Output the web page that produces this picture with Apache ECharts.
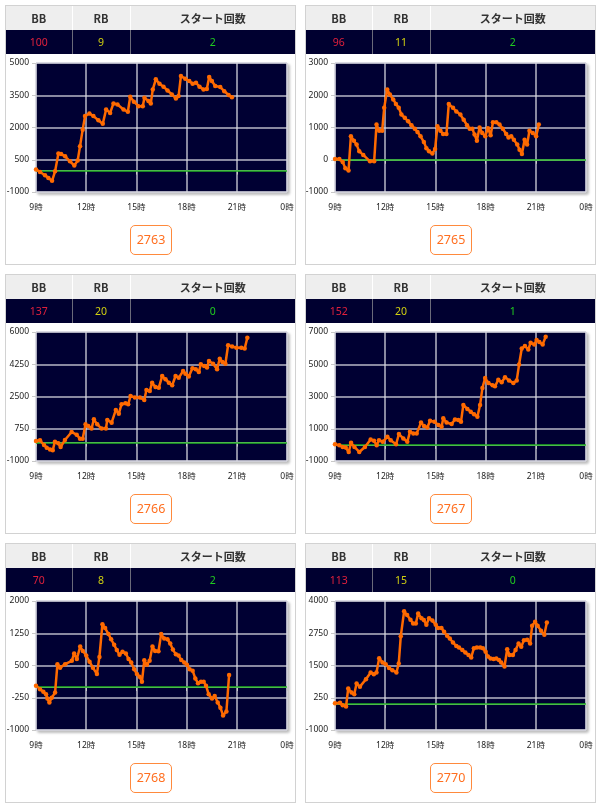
<!DOCTYPE html>
<html><head><meta charset="utf-8">
<script src="https://cdn.jsdelivr.net/npm/echarts@6/dist/echarts.min.js"></script>
<style>
html,body{margin:0;padding:0;background:#fff;width:600px;height:806px;overflow:hidden;font-family:"Noto Sans","Noto Sans CJK JP",sans-serif;}
#chart{position:absolute;left:0;top:0;width:600px;height:806px;}
.panel{position:absolute;width:289px;height:258px;border:1px solid #d2d2d2;pointer-events:none;}
.panel table{position:absolute;left:0;top:0;width:289px;border-collapse:collapse;table-layout:fixed;}
.panel th{background:#eeeeee;height:24px;padding:0;font-size:11px;font-weight:bold;color:#333;border-right:1px solid #fff;font-family:"Noto Sans CJK JP","Noto Sans",sans-serif;}
.panel td{background:#000030;height:24px;padding:0;font-size:10.5px;text-align:center;border-right:1px solid #6a6a7a;}
.panel th:last-child,.panel td:last-child{border-right:none;}
.c1{width:66px}.c2{width:58px}
.bb{color:#e0203c}.rb{color:#d0d010}.st{color:#20cc20}
.btn{position:absolute;left:124px;top:219px;width:40px;height:28px;border:1px solid #ff8a3d;border-radius:5px;color:#ff6f20;font-size:12.5px;line-height:28px;text-align:center;}
</style></head>
<body>
<div id="chart"></div>
<div id="panels"></div>
<script>
// ---- data ----
const machineIds = [2763, 2765, 2766, 2767, 2768, 2770];
const bbCounts = [100, 96, 137, 152, 70, 113];
const rbCounts = [9, 11, 20, 20, 8, 15];
const startCounts = [2, 2, 0, 1, 2, 0];
const headerLabels = ['BB', 'RB', 'スタート回数'];

const yMin = -1000;
const yMax = [5000, 3000, 6000, 7000, 2000, 4000];
const yStep = [1500, 1000, 1750, 2000, 750, 1250];
const xMin = 9, xMax = 24, xStep = 3;

const hours1 = [9.0, 9.24, 9.54, 9.74, 9.96, 10.14, 10.34, 10.5, 10.74, 11.03, 11.29, 11.49, 11.63, 11.79, 11.93, 12.19, 12.43, 12.73, 12.99, 13.19, 13.43, 13.63, 13.87, 14.23, 14.49, 14.63, 14.85, 15.12, 15.38, 15.48, 15.72, 15.86, 15.98, 16.16, 16.38, 16.62, 16.86, 17.12, 17.36, 17.52, 17.66, 17.92, 18.16, 18.36, 18.56, 18.77, 19.01, 19.21, 19.35, 19.51, 19.71, 20.01, 20.25, 20.51, 20.71];
const values1 = [50, -70, -220, -350, -480, -40, 790, 770, 660, 430, 230, 460, 1130, 1900, 2530, 2650, 2530, 2340, 2170, 2840, 2680, 3120, 3070, 2840, 2730, 3430, 3200, 2990, 2990, 3380, 3230, 3120, 3770, 4240, 4035, 3900, 3720, 3540, 3350, 3460, 4390, 4270, 4160, 4035, 4080, 3900, 3770, 3790, 4350, 4160, 3930, 3880, 3690, 3510, 3410];

const hours2 = [9.0, 9.26, 9.46, 9.62, 9.81, 9.95, 10.13, 10.29, 10.45, 10.69, 11.09, 11.34, 11.48, 11.64, 11.82, 11.94, 12.12, 12.28, 12.48, 12.64, 12.81, 12.97, 13.17, 13.37, 13.57, 13.77, 13.93, 14.11, 14.31, 14.46, 14.62, 14.82, 14.98, 15.12, 15.30, 15.46, 15.66, 15.80, 16.05, 16.25, 16.49, 16.69, 16.89, 17.05, 17.21, 17.34, 17.48, 17.64, 17.80, 17.98, 18.14, 18.30, 18.44, 18.64, 18.83, 19.03, 19.23, 19.37, 19.53, 19.69, 19.89, 20.03, 20.17, 20.33, 20.48, 20.62, 20.82, 21.02, 21.18];
const values2 = [20, 20, -70, -260, -330, 730, 590, 470, 260, 150, -50, -50, 1090, 900, 900, 1610, 2180, 2020, 1870, 1730, 1610, 1400, 1300, 1190, 1070, 960, 860, 730, 550, 360, 260, 190, 330, 1040, 900, 800, 800, 1730, 1610, 1500, 1400, 1240, 1070, 960, 960, 780, 590, 1000, 830, 730, 980, 760, 1160, 1160, 1090, 960, 800, 690, 730, 620, 470, 310, 180, 620, 470, 900, 830, 730, 1090];

const hours3 = [9.0, 9.24, 9.48, 9.64, 9.84, 10.0, 10.13, 10.33, 10.47, 10.73, 11.13, 11.43, 11.63, 11.79, 11.96, 12.12, 12.32, 12.46, 12.66, 12.92, 13.18, 13.26, 13.52, 13.77, 13.95, 14.11, 14.35, 14.51, 14.65, 14.91, 15.21, 15.47, 15.6, 15.8, 15.94, 16.14, 16.34, 16.54, 16.74, 16.94, 17.14, 17.34, 17.53, 17.79, 17.93, 18.13, 18.35, 18.55, 18.73, 18.85, 19.05, 19.22, 19.34, 19.58, 19.82, 19.98, 20.14, 20.32, 20.48, 20.72, 20.98, 21.27, 21.47, 21.63];
const values3 = [90, 120, -130, -280, -370, -420, 50, -40, -240, 140, 570, 430, 210, 210, 990, 900, 760, 1260, 990, 760, 760, 1230, 1080, 1770, 1570, 2080, 2130, 2080, 2530, 2440, 2440, 2310, 2850, 2800, 3250, 3020, 2980, 3610, 3430, 3250, 3110, 3610, 3520, 3880, 3740, 3580, 4030, 3980, 3830, 4250, 4160, 4070, 4430, 4280, 3980, 4550, 4370, 4280, 5280, 5210, 5150, 5150, 5100, 5690];

const hours4 = [9.0, 9.26, 9.46, 9.64, 9.82, 9.96, 10.16, 10.45, 10.79, 11.13, 11.33, 11.49, 11.63, 11.85, 12.13, 12.33, 12.65, 12.82, 13.08, 13.32, 13.48, 13.68, 13.88, 14.14, 14.32, 14.52, 14.68, 14.94, 15.18, 15.37, 15.47, 15.67, 15.97, 16.17, 16.37, 16.53, 16.67, 16.91, 17.11, 17.31, 17.51, 17.67, 17.81, 17.97, 18.17, 18.42, 18.56, 18.76, 18.96, 19.16, 19.40, 19.66, 19.86, 20.0, 20.16, 20.35, 20.55, 20.69, 20.91, 21.05, 21.21, 21.41, 21.59];
const values4 = [40, -20, -130, -170, -440, 130, -130, -440, -130, 330, 250, -20, 290, 190, 500, 290, 40, 670, 400, 190, 810, 710, 710, 1380, 1170, 1080, 1500, 1440, 1230, 1130, 1650, 1380, 1290, 1580, 1540, 1440, 2480, 2230, 2060, 1900, 1750, 2480, 3520, 4150, 3830, 3690, 3630, 4040, 3880, 4190, 4000, 3830, 4000, 4980, 5980, 6130, 5920, 6330, 6230, 6500, 6380, 6230, 6710];

const hours5 = [9.0, 9.24, 9.44, 9.60, 9.68, 9.80, 9.94, 10.14, 10.28, 10.44, 10.74, 11.14, 11.28, 11.44, 11.64, 11.80, 12.0, 12.2, 12.4, 12.64, 12.79, 12.97, 13.13, 13.33, 13.49, 13.67, 13.83, 13.99, 14.17, 14.37, 14.53, 14.69, 14.87, 15.03, 15.19, 15.33, 15.47, 15.63, 15.79, 15.96, 16.12, 16.32, 16.48, 16.66, 16.86, 17.02, 17.18, 17.36, 17.52, 17.68, 17.86, 18.02, 18.18, 18.36, 18.52, 18.68, 18.86, 19.02, 19.16, 19.32, 19.52, 19.68, 19.86, 20.02, 20.18, 20.38, 20.54];
const values5 = [30, -50, -110, -170, -270, -360, -250, -130, 530, 450, 530, 610, 780, 650, 940, 840, 730, 590, 450, 300, 700, 1460, 1370, 1230, 1110, 980, 860, 750, 820, 780, 650, 570, 410, 300, 240, 120, 620, 520, 610, 940, 840, 830, 1230, 1130, 1110, 1010, 870, 760, 730, 630, 570, 520, 410, 380, 200, 90, 120, 120, 30, -170, -270, -210, -360, -480, -660, -570, 280];

const hours6 = [9.0, 9.3, 9.46, 9.66, 9.79, 9.99, 10.15, 10.29, 10.49, 10.85, 11.13, 11.32, 11.48, 11.64, 11.84, 12.03, 12.23, 12.43, 12.67, 12.81, 12.93, 13.13, 13.31, 13.51, 13.67, 13.83, 13.97, 14.17, 14.31, 14.46, 14.62, 14.82, 15.02, 15.16, 15.36, 15.52, 15.7, 15.86, 16.05, 16.25, 16.41, 16.61, 16.79, 16.98, 17.14, 17.30, 17.48, 17.68, 17.84, 18.0, 18.14, 18.30, 18.48, 18.64, 18.80, 18.93, 19.13, 19.29, 19.43, 19.63, 19.79, 19.97, 20.13, 20.29, 20.48, 20.66, 20.78, 20.96, 21.11, 21.31, 21.51, 21.66];
const values6 = [40, 60, -40, -90, 610, 450, 390, 800, 680, 970, 1230, 1160, 1230, 1780, 1620, 1550, 1400, 1320, 1230, 1580, 2630, 3600, 3460, 3270, 3130, 3130, 3520, 3330, 3260, 3080, 3330, 3240, 3080, 2950, 2950, 2810, 2650, 2550, 2390, 2260, 2200, 2100, 2000, 1910, 1810, 2170, 2200, 2200, 2170, 2030, 1850, 1770, 1750, 1770, 1710, 1620, 1460, 2130, 1910, 1910, 2100, 2350, 2230, 2480, 2500, 2350, 3040, 3200, 3040, 2850, 2690, 3170];

const allHours = [hours1, hours2, hours3, hours4, hours5, hours6];
const allValues = [values1, values2, values3, values4, values5, values6];

// ---- layout ----
const panelLeft = [5, 305];
const panelTop = [5, 274, 543];
const gridLeft = [36, 335];
const gridTop = [63, 332, 601];

// HTML panels (tables + id buttons)
const holder = document.getElementById('panels');
machineIds.forEach((id, i) => {
  const p = document.createElement('div');
  p.className = 'panel';
  p.style.left = panelLeft[i % 2] + 'px';
  p.style.top = panelTop[Math.floor(i / 2)] + 'px';
  p.innerHTML =
    '<table><colgroup><col class="c1"><col class="c2"><col></colgroup>' +
    '<tr>' + headerLabels.map(h => '<th>' + h + '</th>').join('') + '</tr>' +
    '<tr><td class="bb">' + bbCounts[i] + '</td><td class="rb">' + rbCounts[i] +
    '</td><td class="st">' + startCounts[i] + '</td></tr></table>' +
    '<div class="btn">' + id + '</div>';
  holder.appendChild(p);
});

// ECharts
const chart = echarts.init(document.getElementById('chart'), null, {renderer: 'canvas'});
const gridLineColor = 'rgba(215,215,225,0.85)';
const labelFont = {fontSize: 8.5, color: '#222', fontFamily: '"Noto Sans","Noto Sans CJK JP",sans-serif'};

const grids = [], xAxes = [], yAxes = [], series = [];
machineIds.forEach((id, i) => {
  grids.push({
    left: gridLeft[i % 2], top: gridTop[Math.floor(i / 2)], width: 251, height: 129,
    show: true, backgroundColor: '#000033', borderColor: '#c8c8d0', borderWidth: 1,
    shadowColor: 'rgba(0,0,0,0.28)', shadowBlur: 3, shadowOffsetX: 2, shadowOffsetY: 2,
    outerBoundsMode: 'none', containLabel: false
  });
  xAxes.push({
    gridIndex: i, type: 'value', min: xMin, max: xMax, interval: xStep,
    axisLine: {show: true, lineStyle: {color: '#c8c8c8'}},
    axisTick: {show: true, length: 4, lineStyle: {color: '#c8c8c8'}},
    axisLabel: Object.assign({margin: 11, formatter: v => (v % 24) + '時'}, labelFont),
    splitLine: {show: true, lineStyle: {color: gridLineColor, width: 1.5}}
  });
  yAxes.push({
    gridIndex: i, type: 'value', min: yMin, max: yMax[i], interval: yStep[i],
    axisLine: {show: false},
    axisTick: {show: true, length: 4, lineStyle: {color: '#c8c8c8'}},
    axisLabel: Object.assign({margin: 7, formatter: v => String(v)}, labelFont),
    splitLine: {show: true, lineStyle: {color: gridLineColor, width: 1.5}}
  });
  const pts = allHours[i].map((h, k) => [h, allValues[i][k]]);
  series.push({
    type: 'line', xAxisIndex: i, yAxisIndex: i, data: pts, z: 1,
    symbol: 'none', lineStyle: {opacity: 0}, silent: true,
    markLine: {silent: true, symbol: 'none', label: {show: false}, z: 1,
      lineStyle: {color: '#22b322', width: 1.5, type: 'solid'}, data: [{yAxis: 0}]}
  });
  series.push({
    type: 'line', xAxisIndex: i, yAxisIndex: i, data: pts, z: 3,
    symbol: 'circle', symbolSize: 4.5, showSymbol: true,
    lineStyle: {color: '#ff6a00', width: 2.5},
    itemStyle: {color: '#ff6a00'}
  });
});

chart.setOption({animation: false, grid: grids, xAxis: xAxes, yAxis: yAxes, series: series});
</script>
</body></html>
